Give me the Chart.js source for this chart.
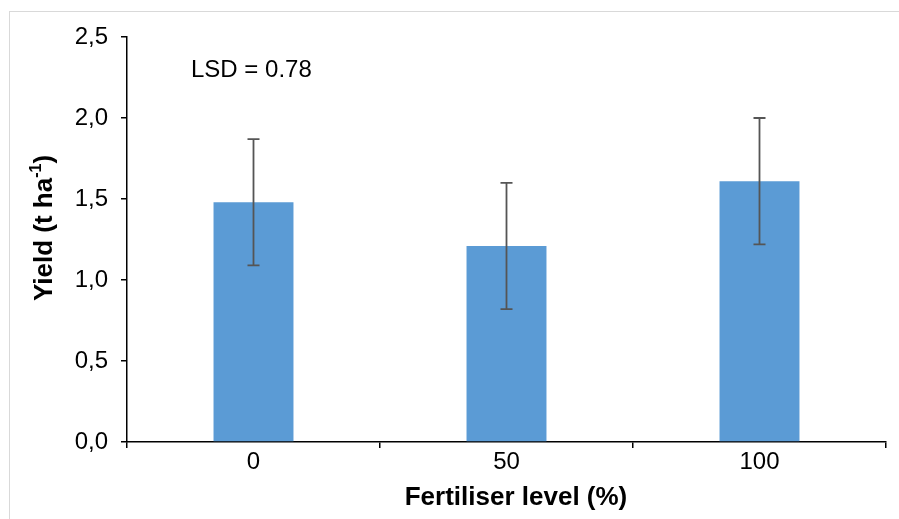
<!DOCTYPE html>
<html>
    <head>
        <meta charset="utf-8">
        <title>Yield by fertiliser level</title>
        <script src="https://cdn.jsdelivr.net/npm/chart.js/dist/chart.umd.min.js"></script>
        <style>
            body { margin: 0; background: #fff; }
            #frame { position: absolute; left: 9px; top: 11px; width: 890px; height: 508px;
                     border-left: 1px solid #d9d9d9; border-top: 1px solid #d9d9d9; }
            #wrap { position: absolute; left: 0; top: 0; width: 899px; height: 519px; }
        </style>
    </head>
    <body>
        <div id="frame"></div>
        <div id="wrap"><canvas id="myChart" width="899" height="519"></canvas></div>

    <script>
    // chart data
    const levels = ['0', '50', '100'];
    const yieldMeans = [1.48, 1.21, 1.61];
    const yieldErrors = [0.39, 0.39, 0.39];
    const yTicks = [0, 0.5, 1.0, 1.5, 2.0, 2.5];
    const lsdText = 'LSD = 0.78';
    const xTitle = 'Fertiliser level (%)';

    const FONT = "'Liberation Sans', Arial, sans-serif";

    // draws the error bars, the LSD note and the axis titles (y needs a superscript)
    const extras = {
        id: 'extras',
        afterDatasetsDraw(chart) {
            const ctx = chart.ctx;
            const y = chart.scales.y;
            const meta = chart.getDatasetMeta(0);
            ctx.save();
            ctx.strokeStyle = '#555';
            ctx.lineWidth = 1.8;
            meta.data.forEach((bar, i) => {
                const hi = y.getPixelForValue(yieldMeans[i] + yieldErrors[i]);
                const lo = y.getPixelForValue(yieldMeans[i] - yieldErrors[i]);
                ctx.beginPath();
                ctx.moveTo(bar.x, hi); ctx.lineTo(bar.x, lo);
                ctx.moveTo(bar.x - 6, hi); ctx.lineTo(bar.x + 6, hi);
                ctx.moveTo(bar.x - 6, lo); ctx.lineTo(bar.x + 6, lo);
                ctx.stroke();
            });

            // LSD note
            ctx.fillStyle = '#000';
            ctx.font = '24px ' + FONT;
            ctx.textBaseline = 'middle';
            ctx.textAlign = 'left';
            ctx.fillText(lsdText, 191, 70);

            // x axis title
            ctx.font = 'bold 26px ' + FONT;
            ctx.textAlign = 'center';
            ctx.fillText(xTitle, 516, 498);

            // y axis title with superscript
            ctx.translate(43, 228);
            ctx.rotate(-Math.PI / 2);
            const main = 'Yield (t ha';
            const sup = '-1';
            const tail = ')';
            ctx.font = 'bold 26px ' + FONT;
            const w1 = ctx.measureText(main).width;
            const w3 = ctx.measureText(tail).width;
            ctx.font = 'bold 16px ' + FONT;
            const w2 = ctx.measureText(sup).width;
            let x = -(w1 + w2 + w3) / 2;
            ctx.textAlign = 'left';
            ctx.textBaseline = 'alphabetic';
            ctx.font = 'bold 26px ' + FONT;
            ctx.fillText(main, x, 9);
            x += w1;
            ctx.font = 'bold 16px ' + FONT;
            ctx.fillText(sup, x, -2);
            x += w2;
            ctx.font = 'bold 26px ' + FONT;
            ctx.fillText(tail, x, 9);
            ctx.restore();
        }
    };

    const ctx = document.getElementById('myChart').getContext('2d');
    const myChart = new Chart(ctx, {
        type: 'bar',
        data: {
            labels: levels,
            datasets: [{
                data: yieldMeans,
                backgroundColor: '#5b9bd5',
                borderWidth: 0,
                categoryPercentage: 1,
                barPercentage: 0.316
            }]
        },
        options: {
            responsive: false,
            animation: false,
            devicePixelRatio: 1,
            layout: { padding: { top: 37, right: 13, left: 0, bottom: 0 } },
            plugins: { legend: { display: false }, tooltip: { enabled: false } },
            scales: {
                x: {
                    grid: { drawOnChartArea: false, drawTicks: true, tickLength: 6, color: '#000', lineWidth: 1.5 },
                    border: { color: '#000', width: 1.5 },
                    ticks: { color: '#000', font: { family: FONT, size: 24 }, padding: 0 },
                    afterFit(scale) { scale.height = 77; }
                },
                y: {
                    min: 0,
                    max: 2.5,
                    afterBuildTicks(scale) { scale.ticks = yTicks.map(v => ({ value: v })); },
                    grid: { drawOnChartArea: false, drawTicks: true, tickLength: 6, color: '#000', lineWidth: 1.5 },
                    border: { color: '#000', width: 1.5 },
                    ticks: {
                        color: '#000',
                        font: { family: FONT, size: 24 },
                        padding: 13,
                        callback: v => v.toFixed(1).replace('.', ',')
                    },
                    afterFit(scale) { scale.width = 127; }
                }
            }
        },
        plugins: [extras]
    });
    </script>
    </body>
</html>
